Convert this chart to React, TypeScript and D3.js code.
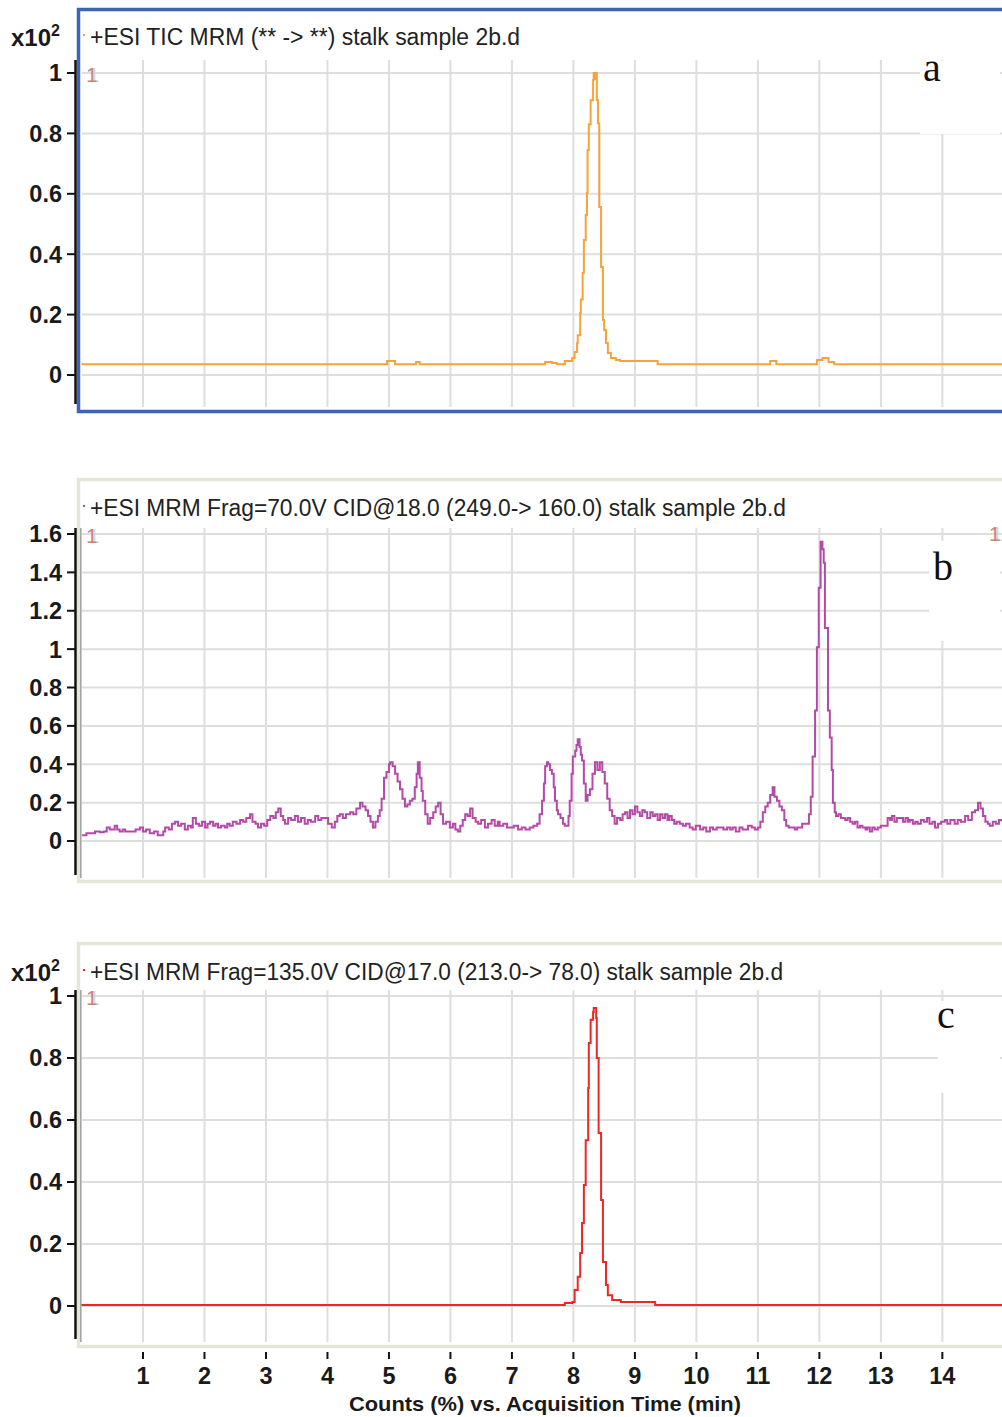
import React from "react";
import * as d3 from "d3";

const width = 1002;
const height = 1417;

// x axis (acquisition time, min)
const xTicks = [1, 2, 3, 4, 5, 6, 7, 8, 9, 10, 11, 12, 13, 14];
const xAxisLabel = "Counts (%) vs. Acquisition Time (min)";

// y tick values for each panel
const yTicksA = [0, 0.2, 0.4, 0.6, 0.8, 1];
const yTicksB = [0, 0.2, 0.4, 0.6, 0.8, 1, 1.2, 1.4, 1.6];
const yTicksC = [0, 0.2, 0.4, 0.6, 0.8, 1];

const titleA = "+ESI TIC MRM (** -> **) stalk sample 2b.d";
const titleB = "+ESI MRM Frag=70.0V CID@18.0 (249.0-> 160.0) stalk sample 2b.d";
const titleC = "+ESI MRM Frag=135.0V CID@17.0 (213.0-> 78.0) stalk sample 2b.d";

// panel a: TIC
const ticTime = [
  0, 4.93, 4.97, 5.1, 5.41, 5.44, 5.5, 7.5, 7.54, 7.65, 7.73, 7.86, 7.98, 8.02,
  8.06, 8.07, 8.11, 8.12, 8.15, 8.17, 8.2, 8.22, 8.23, 8.25, 8.28, 8.32, 8.33,
  8.35, 8.37, 8.38, 8.4, 8.42, 8.45, 8.48, 8.5, 8.53, 8.56, 8.61, 8.69, 8.76,
  9.32, 9.37, 11.16, 11.2, 11.3, 11.93, 11.96, 12.05, 12.15, 12.24, 14.97,
];
const ticCounts = [
  0.036, 0.036, 0.046, 0.036, 0.036, 0.043, 0.036, 0.036, 0.043, 0.04, 0.036,
  0.046, 0.056, 0.076, 0.106, 0.132, 0.205, 0.25, 0.338, 0.447, 0.53, 0.603,
  0.745, 0.83, 0.91, 0.977, 1.0, 0.98, 1.0, 0.91, 0.834, 0.556, 0.358, 0.182,
  0.149, 0.106, 0.073, 0.056, 0.05, 0.046, 0.046, 0.036, 0.036, 0.046, 0.036,
  0.036, 0.05, 0.056, 0.043, 0.036, 0.036,
];

// panel b: 249 -> 160
const frag70Time = [
  0.01, 0.08, 0.14, 0.22, 0.3, 0.36, 0.41, 0.46, 0.54, 0.58, 0.62, 0.67, 0.71,
  0.8, 0.88, 0.95, 1.0, 1.05, 1.11, 1.18, 1.24, 1.28, 1.33, 1.36, 1.42, 1.47,
  1.52, 1.57, 1.62, 1.68, 1.73, 1.78, 1.81, 1.86, 1.91, 1.96, 2.01, 2.05, 2.09,
  2.14, 2.18, 2.22, 2.27, 2.33, 2.37, 2.41, 2.46, 2.52, 2.58, 2.63, 2.68, 2.74,
  2.78, 2.83, 2.87, 2.92, 2.97, 3.02, 3.07, 3.12, 3.16, 3.2, 3.24, 3.28, 3.31,
  3.36, 3.41, 3.47, 3.52, 3.57, 3.63, 3.68, 3.73, 3.8, 3.85, 3.9, 3.96, 4.01,
  4.07, 4.12, 4.16, 4.2, 4.25, 4.3, 4.37, 4.42, 4.47, 4.53, 4.57, 4.62, 4.66,
  4.7, 4.74, 4.78, 4.82, 4.85, 4.88, 4.92, 4.96, 5.0, 5.02, 5.06, 5.1, 5.14,
  5.18, 5.22, 5.26, 5.3, 5.34, 5.38, 5.42, 5.45, 5.47, 5.5, 5.53, 5.55, 5.59,
  5.63, 5.67, 5.72, 5.76, 5.8, 5.84, 5.88, 5.93, 5.99, 6.04, 6.08, 6.12, 6.16,
  6.2, 6.24, 6.28, 6.32, 6.36, 6.41, 6.45, 6.5, 6.56, 6.61, 6.67, 6.72, 6.77,
  6.8, 6.86, 6.92, 6.97, 7.03, 7.1, 7.16, 7.22, 7.29, 7.35, 7.41, 7.45, 7.49,
  7.52, 7.54, 7.57, 7.59, 7.62, 7.65, 7.68, 7.7, 7.73, 7.75, 7.79, 7.83, 7.86,
  7.89, 7.92, 7.94, 7.97, 7.99, 8.03, 8.05, 8.07, 8.1, 8.12, 8.14, 8.17, 8.2,
  8.23, 8.27, 8.31, 8.35, 8.39, 8.43, 8.47, 8.51, 8.55, 8.59, 8.63, 8.67, 8.71,
  8.76, 8.8, 8.84, 8.88, 8.92, 8.96, 9.0, 9.04, 9.08, 9.12, 9.16, 9.2, 9.25,
  9.29, 9.33, 9.37, 9.41, 9.45, 9.49, 9.53, 9.56, 9.6, 9.64, 9.68, 9.73, 9.78,
  9.83, 9.89, 9.94, 9.99, 10.06, 10.11, 10.16, 10.22, 10.27, 10.33, 10.38,
  10.44, 10.5, 10.55, 10.59, 10.64, 10.7, 10.75, 10.79, 10.84, 10.9, 10.95,
  11.0, 11.04, 11.08, 11.12, 11.16, 11.2, 11.24, 11.27, 11.31, 11.35, 11.39,
  11.43, 11.46, 11.5, 11.55, 11.6, 11.64, 11.68, 11.72, 11.76, 11.8, 11.83,
  11.86, 11.89, 11.93, 11.96, 11.99, 12.02, 12.05, 12.07, 12.09, 12.14, 12.17,
  12.2, 12.22, 12.25, 12.27, 12.31, 12.35, 12.38, 12.42, 12.46, 12.5, 12.54,
  12.58, 12.62, 12.66, 12.7, 12.75, 12.78, 12.82, 12.86, 12.9, 12.95, 13.0,
  13.04, 13.07, 13.11, 13.15, 13.18, 13.22, 13.26, 13.31, 13.36, 13.4, 13.44,
  13.47, 13.52, 13.56, 13.6, 13.65, 13.7, 13.75, 13.79, 13.84, 13.88, 13.93,
  13.98, 14.04, 14.08, 14.13, 14.2, 14.25, 14.3, 14.37, 14.42, 14.48, 14.53,
  14.58, 14.62, 14.66, 14.7, 14.74, 14.77, 14.82, 14.87, 14.92, 14.97,
];
const frag70Counts = [
  0.03, 0.04, 0.04, 0.05, 0.045, 0.05, 0.07, 0.06, 0.08, 0.06, 0.05, 0.06, 0.05,
  0.05, 0.06, 0.07, 0.05, 0.06, 0.04, 0.05, 0.03, 0.03, 0.05, 0.07, 0.06, 0.09,
  0.1, 0.08, 0.09, 0.06, 0.08, 0.07, 0.12, 0.09, 0.08, 0.1, 0.07, 0.09, 0.1,
  0.08, 0.09, 0.07, 0.08, 0.07, 0.09, 0.08, 0.1, 0.09, 0.11, 0.1, 0.12, 0.14,
  0.1, 0.09, 0.07, 0.09, 0.08, 0.11, 0.13, 0.12, 0.15, 0.17, 0.13, 0.11, 0.09,
  0.12, 0.11, 0.13, 0.1, 0.12, 0.09, 0.11, 0.1, 0.13, 0.11, 0.12, 0.12, 0.09,
  0.07, 0.1, 0.13, 0.14, 0.12, 0.14, 0.15, 0.14, 0.17, 0.2, 0.18, 0.16, 0.13,
  0.1, 0.07, 0.1, 0.13, 0.16, 0.22, 0.33, 0.36, 0.4, 0.41, 0.39, 0.35, 0.31,
  0.27, 0.22, 0.18, 0.19, 0.21, 0.22, 0.28, 0.35, 0.41, 0.33, 0.26, 0.21, 0.14,
  0.09, 0.12, 0.15, 0.18, 0.2, 0.14, 0.09, 0.1, 0.07, 0.09, 0.06, 0.05, 0.08,
  0.11, 0.14, 0.13, 0.17, 0.12, 0.1, 0.09, 0.11, 0.07, 0.09, 0.11, 0.08, 0.1,
  0.08, 0.09, 0.07, 0.07, 0.08, 0.06, 0.07, 0.06, 0.07, 0.08, 0.09, 0.14, 0.21,
  0.3, 0.39, 0.41, 0.4, 0.37, 0.35, 0.28, 0.21, 0.16, 0.14, 0.12, 0.09, 0.08,
  0.08, 0.13, 0.21, 0.35, 0.44, 0.47, 0.5, 0.53, 0.49, 0.45, 0.42, 0.3, 0.21,
  0.24, 0.27, 0.35, 0.41, 0.37, 0.41, 0.36, 0.3, 0.22, 0.16, 0.13, 0.09, 0.12,
  0.11, 0.14, 0.15, 0.12, 0.16, 0.14, 0.18, 0.15, 0.13, 0.16, 0.15, 0.12, 0.15,
  0.13, 0.14, 0.11, 0.14, 0.12, 0.14, 0.11, 0.13, 0.11, 0.09, 0.1, 0.09, 0.08,
  0.09, 0.07, 0.06, 0.08, 0.06, 0.07, 0.05, 0.07, 0.06, 0.07, 0.07,
  0.06, 0.07, 0.06, 0.07, 0.05, 0.07, 0.06, 0.06, 0.08, 0.07, 0.06,
  0.07, 0.1, 0.15, 0.18, 0.2, 0.24, 0.28, 0.23, 0.21, 0.18, 0.16,
  0.11, 0.08, 0.07, 0.07, 0.06, 0.07, 0.07, 0.09, 0.09, 0.09, 0.14,
  0.23, 0.44, 0.68, 1.01, 1.32, 1.56, 1.52, 1.45, 1.11, 0.68, 0.54,
  0.37, 0.2, 0.15, 0.13, 0.14, 0.12, 0.12, 0.11, 0.12, 0.1, 0.09,
  0.1, 0.07, 0.08, 0.07, 0.06, 0.07, 0.05, 0.07, 0.06, 0.07, 0.08,
  0.08, 0.08, 0.12, 0.11, 0.13, 0.1, 0.12, 0.12, 0.1, 0.12, 0.1,
  0.11, 0.09, 0.1, 0.09, 0.11, 0.1, 0.12, 0.09, 0.1, 0.07, 0.09,
  0.1, 0.11, 0.09, 0.11, 0.09, 0.11, 0.1, 0.13, 0.11, 0.15, 0.16,
  0.2, 0.17, 0.13, 0.1, 0.09, 0.08, 0.1, 0.09, 0.11, 0.1,
];

// panel c: 213 -> 78
const frag135Time = [
  0, 7.86, 7.98, 8.02, 8.07, 8.11, 8.14, 8.17, 8.2, 8.24, 8.25, 8.28, 8.32,
  8.33, 8.37, 8.38, 8.41, 8.45, 8.48, 8.53, 8.56, 8.63, 8.77, 9.29, 9.33, 14.97,
];
const frag135Counts = [
  0.003, 0.01, 0.013, 0.052, 0.094, 0.171, 0.268, 0.39, 0.535, 0.703, 0.848,
  0.923, 0.948, 0.961, 0.929, 0.8, 0.558, 0.342, 0.142, 0.068, 0.035, 0.019,
  0.013, 0.013, 0.003, 0.003,
];

const gridColor = "#dedede";
const beige = "#e6e6d6";
const sans = "Liberation Sans, Arial, sans-serif";

const zip = (t: number[], v: number[]): [number, number][] =>
  t.map((d, i) => [d, v[i]]);

const panels = [
  {
    key: "a",
    title: titleA,
    titleLen: 430,
    data: zip(ticTime, ticCounts),
    color: "#f7a23a",
    yMax: 1,
    yTicks: yTicksA,
    yBottom: 375,
    yTop: 73,
    plotTop: 60,
    plotBottom: 407,
    frameTop: 9.5,
    frameBottom: 411.5,
    frameColor: "#3d64b6",
    titleY: 45,
    exponent: true,
    letterX: 932,
    letterY: 81,
    box: { x: 920, y: 61, w: 80, h: 73 },
    rightMarker: false,
  },
  {
    key: "b",
    title: titleB,
    titleLen: 696,
    data: zip(frag70Time, frag70Counts),
    color: "#b44aa8",
    yMax: 1.6,
    yTicks: yTicksB,
    yBottom: 841,
    yTop: 534,
    plotTop: 528,
    plotBottom: 878,
    frameTop: 479.5,
    frameBottom: 881.5,
    frameColor: beige,
    titleY: 516,
    exponent: false,
    letterX: 943,
    letterY: 580,
    box: { x: 929, y: 541, w: 71, h: 100 },
    rightMarker: true,
  },
  {
    key: "c",
    title: titleC,
    titleLen: 693,
    data: zip(frag135Time, frag135Counts),
    color: "#ee2626",
    yMax: 1,
    yTicks: yTicksC,
    yBottom: 1306,
    yTop: 996,
    plotTop: 990,
    plotBottom: 1342,
    frameTop: 943.5,
    frameBottom: 1346.5,
    frameColor: beige,
    titleY: 980,
    exponent: true,
    letterX: 946,
    letterY: 1028,
    box: { x: 938, y: 1001, w: 62, h: 92 },
    rightMarker: false,
  },
];

const xScale = d3.scaleLinear().domain([0, 14.97]).range([81.5, 1002]);

const fmt = (v: number) => String(+v.toFixed(1));

// the little cursor "1" drawn by the acquisition software
const Marker = ({ x, y }: { x: number; y: number }) => (
  <g style={{ fontFamily: sans, fontSize: 21 }}>
    <text x={x + 2} y={y} fill="#c4dcef">
      1
    </text>
    <text x={x} y={y} fill="#cf8478">
      1
    </text>
  </g>
);

const Panel = ({ p }: { p: (typeof panels)[number] }) => {
  const yScale = d3
    .scaleLinear()
    .domain([0, p.yMax])
    .range([p.yBottom, p.yTop]);

  const lineGen = d3
    .line<[number, number]>()
    .x((d) => xScale(d[0]))
    .y((d) => yScale(d[1]))
    .curve(d3.curveStepAfter);

  const left = 81;
  return (
    <g>
      {/* frame */}
      <rect
        x={78.5}
        y={p.frameTop}
        width={960}
        height={p.frameBottom - p.frameTop}
        fill="none"
        stroke={p.frameColor}
        strokeWidth={3.5}
      />
      {p.key !== "a" && (
        <line
          x1={80.8}
          x2={80.8}
          y1={p.plotTop}
          y2={p.plotBottom}
          stroke="#a0a0a0"
          strokeWidth={1.5}
        />
      )}
      {/* grid */}
      {xTicks.map((t) => (
        <line
          key={"gx" + t}
          x1={xScale(t)}
          x2={xScale(t)}
          y1={p.plotTop}
          y2={p.plotBottom}
          stroke={gridColor}
          strokeWidth={2}
        />
      ))}
      {p.yTicks.map((t) => (
        <line
          key={"gy" + t}
          x1={left + 1}
          x2={width}
          y1={yScale(t)}
          y2={yScale(t)}
          stroke={gridColor}
          strokeWidth={2}
        />
      ))}
      {/* white box behind panel letter */}
      <rect x={p.box.x} y={p.box.y} width={p.box.w} height={p.box.h} fill="#fff" />
      <text
        x={p.letterX}
        y={p.letterY}
        textAnchor="middle"
        style={{ fontFamily: "Liberation Serif, Times New Roman, serif", fontSize: 40 }}
        fill="#111"
      >
        {p.key}
      </text>

      {/* left axis */}
      <line
        x1={75.5}
        x2={75.5}
        y1={p.plotTop}
        y2={p.plotBottom - 3}
        stroke="#111"
        strokeWidth={2.5}
      />
      {p.yTicks.map((t) => (
        <g key={"yt" + t}>
          <line x1={67} x2={75} y1={yScale(t)} y2={yScale(t)} stroke="#111" strokeWidth={2} />
          <text
            x={62}
            y={yScale(t)}
            dy="0.36em"
            textAnchor="end"
            fill="#1a1a1a"
            style={{ fontFamily: sans, fontSize: 23.5, fontWeight: "bold" }}
          >
            {fmt(t)}
          </text>
        </g>
      ))}
      {p.exponent && (
        <text
          x={11}
          y={p.titleY + 1}
          fill="#1a1a1a"
          style={{ fontFamily: sans, fontSize: 24, fontWeight: "bold" }}
        >
          x10
          <tspan dy={-10} style={{ fontSize: 16 }}>
            2
          </tspan>
        </text>
      )}

      {/* title */}
      <rect x={83} y={p.titleY - 11} width={2} height={2} fill={p.color} />
      <text
        x={90}
        y={p.titleY}
        textLength={p.titleLen}
        lengthAdjust="spacingAndGlyphs"
        fill="#222"
        style={{ fontFamily: sans, fontSize: 23 }}
      >
        {p.title}
      </text>

      <Marker x={86} y={yScale(p.yMax) + 9} />
      {p.rightMarker && <Marker x={989} y={yScale(p.yMax) + 7} />}

      {/* trace */}
      <path
        d={lineGen(p.data) ?? ""}
        fill="none"
        stroke={p.color}
        strokeWidth={2}
        strokeLinejoin="miter"
      />
    </g>
  );
};

export default function App() {
  return (
    <svg
      width={width}
      height={height}
      style={{ position: "absolute", left: 0, top: 0, background: "#fff" }}
    >
      {panels.map((p) => (
        <Panel key={p.key} p={p} />
      ))}
      {/* bottom x axis */}
      {xTicks.map((t) => (
        <g key={"xt" + t}>
          <line x1={xScale(t)} x2={xScale(t)} y1={1352} y2={1359} stroke="#111" strokeWidth={2} />
          <text
            x={xScale(t)}
            y={1384}
            textAnchor="middle"
            fill="#1a1a1a"
            style={{ fontFamily: sans, fontSize: 23.5, fontWeight: "bold" }}
          >
            {t}
          </text>
        </g>
      ))}
      <text
        x={545}
        y={1411}
        textAnchor="middle"
        textLength={392}
        lengthAdjust="spacingAndGlyphs"
        fill="#1a1a1a"
        style={{ fontFamily: sans, fontSize: 21, fontWeight: "bold" }}
      >
        {xAxisLabel}
      </text>
    </svg>
  );
}
